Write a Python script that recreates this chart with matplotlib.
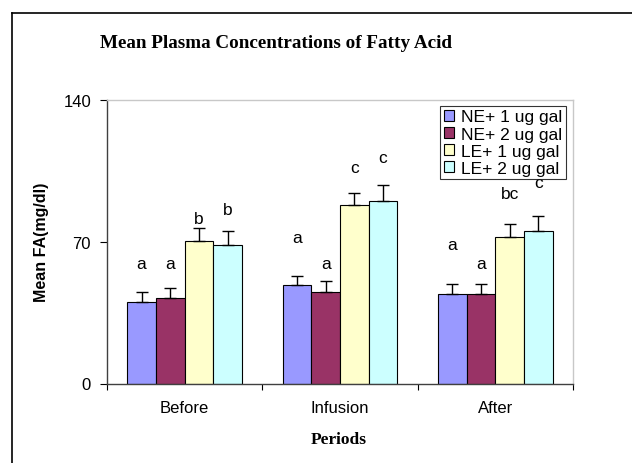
import matplotlib
matplotlib.use("Agg")
import matplotlib.pyplot as plt
import numpy as np
from matplotlib.lines import Line2D

categories = ["Before", "Infusion", "After"]
series_names = ["NE+ 1 ug gal", "NE+ 2 ug gal", "LE+ 1 ug gal", "LE+ 2 ug gal"]
ne1 = [40.4, 48.5, 44.2]
ne2 = [42.4, 45.2, 44.2]
le1 = [70.3, 88.1, 72.4]
le2 = [68.3, 90.1, 75.1]
ne1_err = [4.8, 4.8, 5.1]
ne2_err = [4.8, 5.5, 5.1]
le1_err = [6.3, 6.1, 6.2]
le2_err = [6.8, 7.8, 7.7]
ne1_sig = ["a", "a", "a"]
ne2_sig = ["a", "a", "a"]
le1_sig = ["b", "c", "bc"]
le2_sig = ["b", "c", "c"]
ne1_sig_y = [59.4, 72.1, 68.8]
ne2_sig_y = [59.4, 59.4, 59.4]
le1_sig_y = [81.7, 106.8, 93.6]
le2_sig_y = [85.8, 111.4, 99.4]
yticks = [0, 70, 140]

colors = ["#9999FF", "#993366", "#FFFFCC", "#CCFFFF"]
values = [ne1, ne2, le1, le2]
errs = [ne1_err, ne2_err, le1_err, le2_err]
sigs = [ne1_sig, ne2_sig, le1_sig, le2_sig]
sig_ys = [ne1_sig_y, ne2_sig_y, le1_sig_y, le2_sig_y]

W, H = 632, 464
fig = plt.figure(figsize=(W/100, H/100), dpi=100)
ax = fig.add_axes([107/W, 1-384.5/H, (573-107)/W, (384.5-101)/H])

x = np.arange(len(categories))
w = 0.185
offsets = (np.arange(4) - 1.5) * w
for i in range(4):
    ax.bar(x + offsets[i], values[i], width=w, color=colors[i], edgecolor="black",
           linewidth=0.8, label=series_names[i], zorder=2)
    ax.errorbar(x + offsets[i], values[i], yerr=[np.zeros(3), errs[i]], fmt="none",
                ecolor="black", elinewidth=1, capsize=4.3, capthick=1, zorder=3)
    for j in range(3):
        ax.text(x[j] + offsets[i], sig_ys[i][j], sigs[i][j], ha="center", va="center",
                fontsize=12.5, family="Liberation Sans")

ax.set_xlim(-0.5, 2.5)
ax.set_ylim(0, 140)
ax.set_yticks(yticks)
ax.set_yticklabels([str(t) for t in yticks], fontsize=12, family="Liberation Sans")
ax.set_xticks([-0.5, 0.5, 1.5, 2.5])
ax.set_xticklabels([])
ax.set_xticks(x, minor=True)
ax.set_xticklabels(categories, minor=True, fontsize=12, family="Liberation Sans")
ax.tick_params(axis="x", which="minor", length=0, pad=12)
ax.tick_params(axis="x", which="major", length=4, width=0.8, color="black")
ax.tick_params(axis="y", length=5, width=0.8, pad=6.5)
for s in ["left", "bottom"]:
    ax.spines[s].set_color("#404040")
    ax.spines[s].set_linewidth(1)
for s in ["top", "right"]:
    ax.spines[s].set_color("#c8c8c8")
    ax.spines[s].set_linewidth(1)

fig.text(41.5/W, 1-242.5/H, "Mean FA(mg/dl)", rotation=90, ha="center", va="center",
         fontsize=11.5, fontweight="bold", family="Liberation Sans")
fig.text(339/W, 1-440/H, "Periods", ha="center", va="center",
         fontsize=12.5, fontweight="bold", family="Liberation Serif")

leg = ax.legend(loc="upper right", bbox_to_anchor=(1.0 - 7/466, 1.0 - 6/283.5),
                prop={"family": "Liberation Sans", "size": 12.5},
                frameon=True, fancybox=False, edgecolor="black", handlelength=0.6,
                handleheight=0.6, handletextpad=0.4, labelspacing=0.12, borderpad=0.2,
                borderaxespad=0)
leg.get_frame().set_linewidth(0.8)

fig.text(276.5/W, 1-43/H, "Mean Plasma Concentrations of Fatty Acid", ha="center", va="center",
         fontsize=13.8, fontweight="bold", family="Liberation Serif")

# outer border (top and left)
fig.add_artist(Line2D([12/W, 1], [1-14/H, 1-14/H], transform=fig.transFigure, color="black", lw=1.2))
fig.add_artist(Line2D([12/W, 12/W], [0, 1-14/H], transform=fig.transFigure, color="black", lw=1.2))

fig.savefig("out.png", dpi=100)
